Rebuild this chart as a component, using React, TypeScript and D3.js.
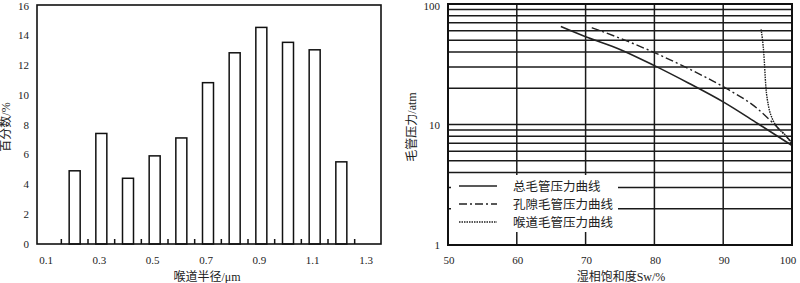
import React, { useEffect, useRef } from 'react';
import * as d3 from 'd3';

// Left chart: throat radius distribution
const radiusBins = [0.2, 0.3, 0.4, 0.5, 0.6, 0.7, 0.8, 0.9, 1.0, 1.1, 1.2];
const radiusPercent = [4.9, 7.4, 4.4, 5.9, 7.1, 10.8, 12.8, 14.5, 13.5, 13.0, 5.5];
const radiusTickLabels = [0.1, 0.3, 0.5, 0.7, 0.9, 1.1, 1.3];
const percentTicks = [0, 2, 4, 6, 8, 10, 12, 14, 16];

// Right chart: capillary pressure curves (Sw %, Pc atm)
const totalCurve: [number, number][] = [
  [66.4, 65], [70, 53.5], [75, 42], [80, 30.8], [85, 22], [90, 15.4], [95, 10.2], [100, 6.7]
];
const poreCurve: [number, number][] = [
  [70.9, 63.6], [75, 52], [80, 39.5], [85, 29], [90, 20.6], [95, 13.5], [97.3, 10.2], [99.8, 7.3]
];
const throatCurve: [number, number][] = [
  [95.5, 61.7], [95.9, 39], [96.2, 20.6], [96.6, 14.1], [97.1, 11.3], [97.8, 9.6], [99, 8.2], [99.9, 7.0]
];
const swTicks = [50, 60, 70, 80, 90, 100];
const pcGrid = [2, 3, 4, 5, 6, 7, 8, 9, 10, 20, 30, 40, 50, 60, 70, 80, 90];
const pcLabels = [1, 10, 100];
const legendNames = ['总毛管压力曲线', '孔隙毛管压力曲线', '喉道毛管压力曲线'];

const FONT = '"Liberation Serif", "Noto Sans CJK SC", serif';

const App: React.FC = () => {
  const svgRef = useRef<SVGSVGElement>(null);

  useEffect(() => {
    if (!svgRef.current) return;
    const svg = d3.select(svgRef.current);
    svg.selectAll('*').remove();

    // ---------- left histogram ----------
    const lx = d3.scaleLinear().domain([0.1, 1.3]).range([48, 368]);
    const ly = d3.scaleLinear().domain([0, 16]).range([244, 5]);
    const left = svg.append('g');
    const barW = 11;

    left.selectAll('.bar')
      .data(radiusBins)
      .enter()
      .append('rect')
      .attr('x', (d) => lx(d) - barW / 2)
      .attr('y', (_d, i) => ly(radiusPercent[i]))
      .attr('width', barW)
      .attr('height', (_d, i) => ly(0) - ly(radiusPercent[i]))
      .attr('fill', '#fff')
      .attr('stroke', '#111')
      .attr('stroke-width', 1.5);

    // small ticks between bars
    const betweenTicks = radiusBins.map((d) => d - 0.05).concat([radiusBins[radiusBins.length - 1] + 0.05]);
    left.selectAll('.tick')
      .data(betweenTicks)
      .enter()
      .append('line')
      .attr('x1', (d) => lx(d))
      .attr('x2', (d) => lx(d))
      .attr('y1', ly(0))
      .attr('y2', ly(0) - 5)
      .attr('stroke', '#111')
      .attr('stroke-width', 1.5);

    left.append('rect')
      .attr('x', 37).attr('y', ly(16))
      .attr('width', 344).attr('height', ly(0) - ly(16))
      .attr('fill', 'none').attr('stroke', '#111').attr('stroke-width', 1.6);

    left.selectAll('.ylab')
      .data(percentTicks)
      .enter()
      .append('text')
      .attr('x', 29)
      .attr('y', (d) => Math.max(ly(d) + 4, 10))
      .attr('text-anchor', 'end')
      .attr('font-size', '11px')
      .attr('font-family', FONT)
      .attr('fill', '#222')
      .text((d) => d);

    left.selectAll('.xlab')
      .data(radiusTickLabels)
      .enter()
      .append('text')
      .attr('x', (d) => lx(d) - 2)
      .attr('y', 264)
      .attr('text-anchor', 'middle')
      .attr('font-size', '11px')
      .attr('font-family', FONT)
      .attr('fill', '#222')
      .text((d) => d.toFixed(1));

    left.append('text')
      .attr('x', 207).attr('y', 281)
      .attr('text-anchor', 'middle')
      .attr('font-size', '12px')
      .attr('font-family', FONT)
      .attr('fill', '#222')
      .text('喉道半径/μm');

    left.append('text')
      .attr('transform', 'translate(10,127) rotate(-90)')
      .attr('text-anchor', 'middle')
      .attr('font-size', '12px')
      .attr('font-family', FONT)
      .attr('fill', '#222')
      .text('百分数/%');

    // ---------- right capillary pressure chart ----------
    const rx = d3.scaleLinear().domain([50, 100]).range([448, 792]);
    const ry = d3.scaleLog().domain([1, 100]).range([245, 4]);
    const right = svg.append('g');

    right.selectAll('.hgrid')
      .data(pcGrid)
      .enter()
      .append('line')
      .attr('x1', rx(50)).attr('x2', rx(100))
      .attr('y1', (d) => ry(d)).attr('y2', (d) => ry(d))
      .attr('stroke', '#1a1a1a').attr('stroke-width', 1.5);

    right.selectAll('.vgrid')
      .data(swTicks.slice(1, -1))
      .enter()
      .append('line')
      .attr('x1', (d) => rx(d)).attr('x2', (d) => rx(d))
      .attr('y1', ry(100)).attr('y2', ry(1))
      .attr('stroke', '#1a1a1a').attr('stroke-width', 1.5);

    // legend box covers the grid
    right.append('rect')
      .attr('x', 451).attr('y', 175)
      .attr('width', 167).attr('height', 57)
      .attr('fill', '#fff');

    const line = d3.line<[number, number]>()
      .x((d) => rx(d[0]))
      .y((d) => ry(d[1]))
      .curve(d3.curveMonotoneX);

    const styles = [
      { data: totalCurve, dash: null, width: 1.6 },
      { data: poreCurve, dash: '8,3,2,3', width: 1.4 },
      { data: throatCurve, dash: '1.5,1', width: 1.4 }
    ];

    styles.forEach((s) => {
      right.append('path')
        .attr('d', line(s.data))
        .attr('fill', 'none')
        .attr('stroke', '#222')
        .attr('stroke-width', s.width)
        .attr('stroke-dasharray', s.dash);
    });

    right.append('rect')
      .attr('x', rx(50)).attr('y', ry(100))
      .attr('width', rx(100) - rx(50)).attr('height', ry(1) - ry(100))
      .attr('fill', 'none').attr('stroke', '#111').attr('stroke-width', 2);

    legendNames.forEach((name, i) => {
      const y = 186 + i * 18;
      right.append('line')
        .attr('x1', 459).attr('x2', 497)
        .attr('y1', y).attr('y2', y)
        .attr('stroke', '#222')
        .attr('stroke-width', 1.3)
        .attr('stroke-dasharray', styles[i].dash);
      right.append('text')
        .attr('x', 513).attr('y', y + 4.5)
        .attr('font-size', '12.5px')
        .attr('font-family', FONT)
        .attr('fill', '#222')
        .text(name);
    });

    right.selectAll('.ylab')
      .data(pcLabels)
      .enter()
      .append('text')
      .attr('x', 440)
      .attr('y', (d) => Math.max(ry(d) + 4, 10))
      .attr('text-anchor', 'end')
      .attr('font-size', '11px')
      .attr('font-family', FONT)
      .attr('fill', '#222')
      .text((d) => d);

    right.selectAll('.xlab')
      .data(swTicks)
      .enter()
      .append('text')
      .attr('x', (d) => Math.min(rx(d) + 1, 788))
      .attr('y', 264)
      .attr('text-anchor', 'middle')
      .attr('font-size', '11px')
      .attr('font-family', FONT)
      .attr('fill', '#222')
      .text((d) => d);

    right.append('text')
      .attr('x', 621).attr('y', 281)
      .attr('text-anchor', 'middle')
      .attr('font-size', '12px')
      .attr('font-family', FONT)
      .attr('fill', '#222')
      .text('湿相饱和度Sw/%');

    right.append('text')
      .attr('transform', 'translate(416,127) rotate(-90)')
      .attr('text-anchor', 'middle')
      .attr('font-size', '12px')
      .attr('font-family', FONT)
      .attr('fill', '#222')
      .text('毛管压力/atm');
  }, []);

  return (
    <svg
      ref={svgRef}
      width={800}
      height={283}
      style={{ position: 'absolute', left: 0, top: 0, background: '#fff' }}
    />
  );
};

export default App;
